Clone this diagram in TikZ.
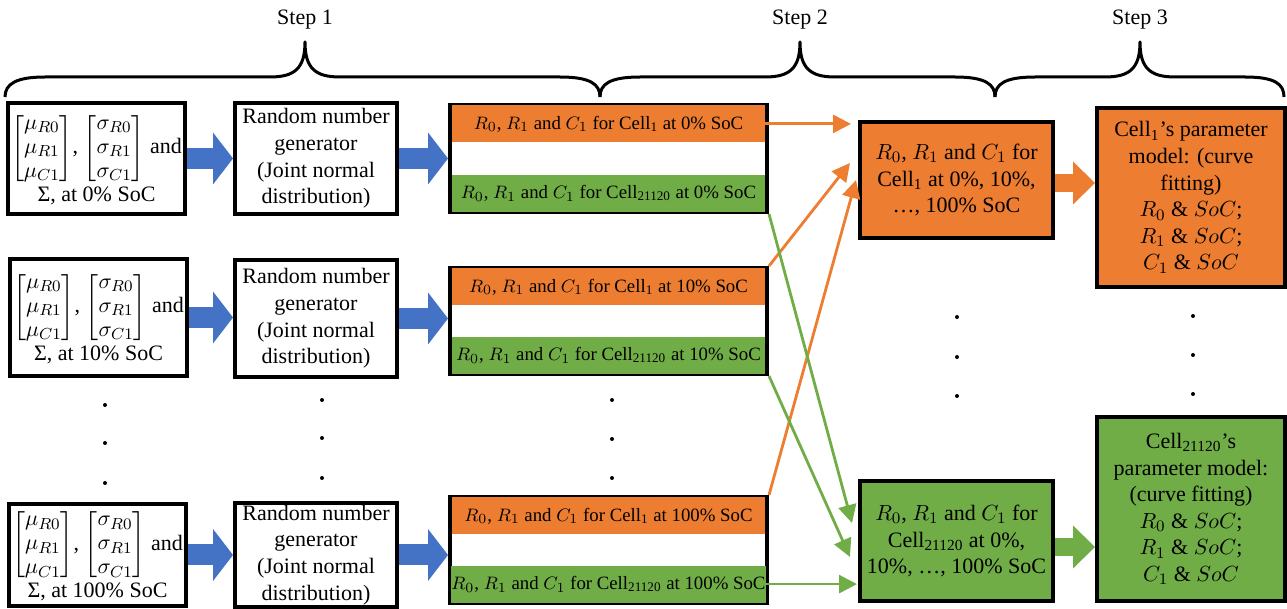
\documentclass[tikz,border=0pt]{standalone}
\usepackage{amsmath,amssymb}
\usepackage{fontspec}
\setmainfont{Liberation Serif}
\usetikzlibrary{arrows.meta,calc}
\definecolor{cellorange}{HTML}{ED7D31}
\definecolor{cellgreen}{HTML}{70AD47}
\definecolor{genblue}{HTML}{4472C4}

\begin{document}
\begin{tikzpicture}[x=0.5pt,y=-0.5pt]

\tikzset{box/.style={draw, line width=2pt, align=center, inner sep=0pt, font=\fontsize{11}{13.3}\selectfont}}
\tikzset{band/.style={inner sep=0pt, minimum width=156.5pt, minimum height=18.5pt, font=\fontsize{9.4}{11}\selectfont}}
\tikzset{link/.style={line width=1.4pt, -{Triangle[length=9pt,width=9pt]}}}
\tikzset{bigarrow/.style={genblue, line width=10.5pt, -{Triangle[length=10pt,width=26pt,line width=0pt]}}}
\tikzset{fitarrow/.style={line width=9pt, -{Triangle[length=11pt,width=21.5pt,line width=0pt]}}}
\tikzset{bracepath/.style={line width=1.5pt, line join=round}}
\tikzset{steplabel/.style={font=\fontsize{11}{13.3}\selectfont}}

\useasboundingbox (0,0) rectangle (1287,609);

\node[steplabel] (s1) at (305,20) {Step 1};
\node[steplabel] (s2) at (800,20) {Step 2};
\node[steplabel] (s3) at (1140,20) {Step 3};

\draw[bracepath] (5,97) .. controls (5,84) and (16,77) .. (45,77) -- (270,77) .. controls (295,77) and (305,68) .. (305,42) .. controls (305,68) and (315,77) .. (340,77) -- (560,77) .. controls (590,77) and (600,84) .. (600,97);
\draw[bracepath] (600,97) .. controls (600,84) and (610,77) .. (640,77) -- (765,77) .. controls (790,77) and (800,68) .. (800,42) .. controls (800,68) and (810,77) .. (835,77) -- (955,77) .. controls (985,77) and (995,84) .. (995,97);
\draw[bracepath] (995,97) .. controls (995,84) and (1005,77) .. (1035,77) -- (1105,77) .. controls (1130,77) and (1140,68) .. (1140,42) .. controls (1140,68) and (1150,77) .. (1175,77) -- (1245,77) .. controls (1275,77) and (1284,84) .. (1284,97);

\node[box, minimum width=88.5pt, minimum height=55.5pt] (a1) at (96.5,158.5) {{\arraycolsep=1pt\renewcommand{\arraystretch}{0.9}$\begin{bmatrix}\mu_{R0}\\ \mu_{R1}\\ \mu_{C1}\end{bmatrix}$, $\begin{bmatrix}\sigma_{R0}\\ \sigma_{R1}\\ \sigma_{C1}\end{bmatrix}$ and}\\ Σ, at 0\% SoC};
\node[box, minimum width=88.5pt, minimum height=58.5pt] (a2) at (98.5,317.5) {{\arraycolsep=1pt\renewcommand{\arraystretch}{0.9}$\begin{bmatrix}\mu_{R0}\\ \mu_{R1}\\ \mu_{C1}\end{bmatrix}$, $\begin{bmatrix}\sigma_{R0}\\ \sigma_{R1}\\ \sigma_{C1}\end{bmatrix}$ and}\\ Σ, at 10\% SoC};
\node[box, minimum width=88.5pt, minimum height=51pt] (a3) at (97.5,555) {{\arraycolsep=1pt\renewcommand{\arraystretch}{0.9}$\begin{bmatrix}\mu_{R0}\\ \mu_{R1}\\ \mu_{C1}\end{bmatrix}$, $\begin{bmatrix}\sigma_{R0}\\ \sigma_{R1}\\ \sigma_{C1}\end{bmatrix}$ and}\\ Σ, at 100\% SoC};

\node[box, minimum width=81pt, minimum height=55.5pt] (b1) at (316,158.5) {Random number\\generator\\(Joint normal\\distribution)};
\node[box, minimum width=81pt, minimum height=58.5pt] (b2) at (316,318.5) {Random number\\generator\\(Joint normal\\distribution)};
\node[box, minimum width=81pt, minimum height=52pt] (b3) at (316,555) {Random number\\generator\\(Joint normal\\distribution)};

\node[box, minimum width=158.5pt, minimum height=53.5pt] (c1) at (608.5,158.5) {};
\node[box, minimum width=158.5pt, minimum height=53pt] (c2) at (608.5,321) {};
\node[box, minimum width=158.5pt, minimum height=53pt] (c3) at (608.5,550) {};

\node[band, fill=cellorange, anchor=north] (c1o) at ([yshift=-1pt]c1.north) {$R_0$, $R_1$ and $C_1$ for Cell\textsubscript{1} at 0\% SoC};
\node[band, fill=cellgreen, anchor=south] (c1g) at ([yshift=1pt]c1.south) {$R_0$, $R_1$ and $C_1$ for Cell\textsubscript{21120} at 0\% SoC};
\node[band, fill=cellorange, anchor=north] (c2o) at ([yshift=-1pt]c2.north) {$R_0$, $R_1$ and $C_1$ for Cell\textsubscript{1} at 10\% SoC};
\node[band, fill=cellgreen, anchor=south] (c2g) at ([yshift=1pt]c2.south) {$R_0$, $R_1$ and $C_1$ for Cell\textsubscript{21120} at 10\% SoC};
\node[band, fill=cellorange, anchor=north] (c3o) at ([yshift=-1pt]c3.north) {$R_0$, $R_1$ and $C_1$ for Cell\textsubscript{1} at 100\% SoC};
\node[band, fill=cellgreen, anchor=south] (c3g) at ([yshift=1pt]c3.south) {$R_0$, $R_1$ and $C_1$ for Cell\textsubscript{21120} at 100\% SoC};

\node[box, fill=cellorange, minimum width=96.5pt, minimum height=58pt] (d1) at (956.5,180) {$R_0$, $R_1$ and $C_1$ for\\Cell\textsubscript{1} at 0\%, 10\%,\\…, 100\% SoC};
\node[box, fill=cellgreen, minimum width=96.5pt, minimum height=60pt] (d2) at (956.5,541) {$R_0$, $R_1$ and $C_1$ for\\Cell\textsubscript{21120} at 0\%,\\10\%, …, 100\% SoC};

\node[box, fill=cellorange, minimum width=94pt, minimum height=89.5pt] (e1) at (1191,197.5) {Cell\textsubscript{1}’s parameter\\model: (curve\\fitting)\\$R_0$ \& $SoC$;\\$R_1$ \& $SoC$;\\$C_1$ \& $SoC$};
\node[box, fill=cellgreen, minimum width=94pt, minimum height=92pt] (e2) at (1191,509) {Cell\textsubscript{21120}’s\\parameter model:\\(curve fitting)\\$R_0$ \& $SoC$;\\$R_1$ \& $SoC$;\\$C_1$ \& $SoC$};

\coordinate (d1in1) at ([xshift=-3.5pt]d1.west |- c1o.east);
\coordinate (d1in2) at ($(d1.west)+(-8,-17)$);
\coordinate (d1in3) at ($(d1.west)+(-2,0)$);
\coordinate (d2in1) at ($(d2.west)+(-6,-18)$);
\coordinate (d2in2) at ($(d2.west)+(-8,16)$);
\coordinate (d2in3) at ([xshift=-0.5pt]d2.west |- c3g.east);

\draw[bigarrow] (a1.east) -- (a1.east -| b1.west);
\draw[bigarrow] (a2.east) -- (a2.east -| b2.west);
\draw[bigarrow] (a3.east) -- (a3.east -| b3.west);
\draw[bigarrow] (b1.east) -- (b1.east -| c1.west);
\draw[bigarrow] (b2.east) -- (b2.east -| c2.west);
\draw[bigarrow] (b3.east) -- (b3.east -| c3.west);

\draw[link, cellorange] (c1o.east) -- (d1in1);
\draw[link, cellorange] (c2.north east) -- (d1in2);
\draw[link, cellorange] (c3.north east) -- (d1in3);
\draw[link, cellgreen] (c1.south east) -- (d2in1);
\draw[link, cellgreen] (c2.south east) -- (d2in2);
\draw[link, cellgreen] (c3g.east) -- (d2in3);

\draw[fitarrow, cellorange] ([yshift=-1.5pt]d1.east) -- ([yshift=-1.5pt]d1.east -| e1.west);
\draw[fitarrow, cellgreen] ([yshift=-3pt]d2.east) -- ([yshift=-3pt]d2.east -| e2.west);

\fill (105,405) circle[radius=1pt];
\fill (105,443) circle[radius=1pt];
\fill (105,483) circle[radius=1pt];
\fill (322,400) circle[radius=1pt];
\fill (322,438) circle[radius=1pt];
\fill (322,478) circle[radius=1pt];
\fill (612,400) circle[radius=1pt];
\fill (612,439) circle[radius=1pt];
\fill (612,478) circle[radius=1pt];
\fill (957,317) circle[radius=1pt];
\fill (957,357) circle[radius=1pt];
\fill (957,396) circle[radius=1pt];
\fill (1193,316) circle[radius=1pt];
\fill (1193,355) circle[radius=1pt];
\fill (1193,394) circle[radius=1pt];

\end{tikzpicture}
\end{document}
